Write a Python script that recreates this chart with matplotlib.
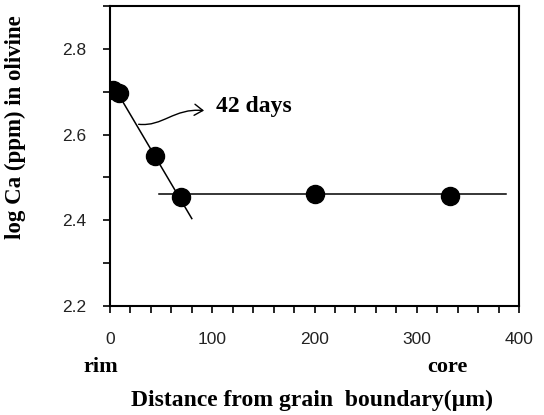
import matplotlib.pyplot as plt
from matplotlib.patches import FancyArrowPatch
from matplotlib.path import Path
from matplotlib.ticker import MultipleLocator

# measured profile (distance um, log Ca ppm)
DIST = [3, 9, 44, 69, 200, 333]
LOG_CA = [2.705, 2.697, 2.55, 2.454, 2.462, 2.456]

# fitted lines
SLOPE_X = [3, 80]
SLOPE_Y = [2.715, 2.404]
FLAT_X = [48, 387]
FLAT_Y = [2.461, 2.461]

LABEL_TIME = "42 days"
ARROW_PTS = [(28, 2.624), (52, 2.618), (62, 2.662), (92, 2.656)]

W, H = 544, 415
SERIF = "Liberation Serif"
SANS = "Liberation Sans"

fig = plt.figure(figsize=(W / 100, H / 100), dpi=100)
ax = fig.add_axes([110 / W, 1 - 306 / H, 409 / W, 300 / H])

ax.plot(SLOPE_X, SLOPE_Y, color="black", lw=1.1)
ax.plot(FLAT_X, FLAT_Y, color="black", lw=1.1)
ax.plot(DIST, LOG_CA, "o", color="black", ms=13, zorder=3)

verts = ARROW_PTS
codes = [Path.MOVETO, Path.CURVE4, Path.CURVE4, Path.CURVE4]
arrow = FancyArrowPatch(path=Path(verts, codes), arrowstyle="->,head_length=6,head_width=4",
                        color="black", lw=1.0)
ax.add_patch(arrow)
ax.text(104, 2.666, LABEL_TIME, fontsize=17, fontweight="bold", family=SERIF,
        va="center", ha="left")

ax.set_xlim(0, 400)
ax.set_ylim(2.2, 2.9)
ax.xaxis.set_major_locator(MultipleLocator(100))
ax.xaxis.set_minor_locator(MultipleLocator(20))
ax.set_yticks([2.2, 2.4, 2.6, 2.8])
ax.yaxis.set_minor_locator(MultipleLocator(0.1))

for s in ax.spines.values():
    s.set_linewidth(1.5)
ax.tick_params(which="both", direction="out", length=5, width=1.2, top=False, right=False)
ax.tick_params(axis="x", which="major", pad=14, labelsize=12.5, labelcolor="#222222")
ax.tick_params(axis="y", which="major", pad=12, labelsize=12.5, labelcolor="#222222")
for lab in ax.get_xticklabels() + ax.get_yticklabels():
    lab.set_family(SANS)

fig.text(101 / W, 1 - 367 / H, "rim", fontsize=16, fontweight="bold", family=SERIF,
         ha="center", va="center")
fig.text(447 / W, 1 - 367 / H, "core", fontsize=16, fontweight="bold", family=SERIF,
         ha="center", va="center")
fig.text(312 / W, 1 - 400 / H, "Distance from grain  boundary(µm)", fontsize=17,
         fontweight="bold", family=SERIF, ha="center", va="center")
fig.text(15 / W, 1 - 127 / H, "log Ca (ppm) in olivine", fontsize=16.5,
         fontweight="bold", family=SERIF, ha="center", va="center", rotation=90)

fig.savefig("out.png", dpi=100)
